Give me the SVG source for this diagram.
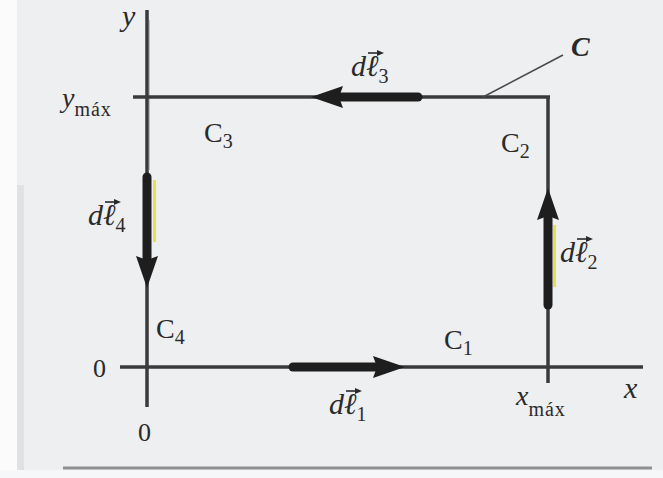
<svg xmlns="http://www.w3.org/2000/svg" width="663" height="478" viewBox="0 0 663 478">
<defs>
<style>
.bg{fill:#edeff1}
.ln{stroke:#3a3a3a;stroke-width:3.5;fill:none;stroke-linecap:butt}
.thick{stroke:#1e1e1e;stroke-width:9;fill:none;stroke-linecap:round}
.lbl{font-family:"Liberation Serif","DejaVu Serif",serif;fill:#2a2a2a}
.it{font-style:italic}
.sub{font-size:20px;font-style:normal}
.vec{stroke:#2a2a2a;stroke-width:1.6;fill:none}
</style>
<marker id="ah" markerUnits="userSpaceOnUse" markerWidth="34" markerHeight="24" viewBox="0 0 34 24" refX="2" refY="12" orient="auto">
<path d="M0,1 L32,12 L0,23 L4,12 Z" fill="#1e1e1e"/>
</marker>
<g id="va">
<line class="vec" x1="0" y1="0" x2="11" y2="0"/>
<path d="M9,-3 L16,0 L9,3 Z" fill="#2a2a2a"/>
</g>
</defs>
<rect class="bg" x="0" y="0" width="663" height="478"/>
<rect x="0" y="0" width="17" height="478" fill="#fbfbfb"/>
<rect x="17" y="185" width="7" height="293" fill="#dfe1e3"/>
<rect x="0" y="470" width="663" height="8" fill="#f6f7f8"/>
<line x1="63" y1="468" x2="652" y2="468" stroke="#8e9092" stroke-width="3"/>

<g id="connectors">
<line class="ln" x1="147" y1="10" x2="147" y2="407"/>
<line x1="149.5" y1="20" x2="149.5" y2="170" stroke="#a9c3d8" stroke-width="1"/>
<line class="ln" x1="120" y1="367" x2="643" y2="367"/>
<line class="ln" x1="133" y1="97" x2="550" y2="97"/>
<line class="ln" x1="548" y1="97" x2="548" y2="383"/>
<line x1="563" y1="55" x2="483" y2="97" stroke="#4a4a4a" stroke-width="1.6"/>
<rect x="153" y="180" width="3" height="62" fill="#e6e04a"/>
<rect x="553" y="225" width="3" height="62" fill="#e6e04a"/>
<line class="thick" x1="293" y1="367" x2="375" y2="367" marker-end="url(#ah)"/>
<line class="thick" x1="548" y1="305" x2="548" y2="218" marker-end="url(#ah)"/>
<line class="thick" x1="418" y1="97" x2="341" y2="97" marker-end="url(#ah)"/>
<line class="thick" x1="147" y1="177" x2="147" y2="258" marker-end="url(#ah)"/>
</g>

<g id="axis-labels">
<text class="lbl it" x="122" y="26" font-size="30">y</text>
<text class="lbl" x="62" y="107" font-size="28"><tspan class="it">y</tspan><tspan class="sub" dy="9" letter-spacing="1">máx</tspan></text>
<text class="lbl" x="93" y="377" font-size="26">0</text>
<text class="lbl" x="138" y="441" font-size="26">0</text>
<text class="lbl it" x="624" y="398" font-size="30">x</text>
<text class="lbl" x="516" y="405" font-size="28"><tspan class="it">x</tspan><tspan class="sub" dy="11" letter-spacing="1">máx</tspan></text>
</g>

<g id="C"><text class="lbl it" x="571" y="56" font-size="28" font-weight="bold">C</text></g>
<g id="C1"><text class="lbl" x="444" y="349" font-size="28">C<tspan class="sub" dy="6">1</tspan></text></g>
<g id="C2"><text class="lbl" x="501" y="152" font-size="28">C<tspan class="sub" dy="6">2</tspan></text></g>
<g id="C3"><text class="lbl" x="204" y="142" font-size="28">C<tspan class="sub" dy="6">3</tspan></text></g>
<g id="C4"><text class="lbl" x="156" y="338" font-size="28">C<tspan class="sub" dy="6">4</tspan></text></g>

<g id="dl1"><text class="lbl it" x="329" y="414" font-size="30">dℓ<tspan class="sub" dy="7">1</tspan></text><use href="#va" x="346" y="391"/></g>
<g id="dl2"><text class="lbl it" x="560" y="262" font-size="30">dℓ<tspan class="sub" dy="7">2</tspan></text><use href="#va" x="577" y="239"/></g>
<g id="dl3"><text class="lbl it" x="351" y="76" font-size="30">dℓ<tspan class="sub" dy="7">3</tspan></text><use href="#va" x="368" y="53"/></g>
<g id="dl4"><text class="lbl it" x="88" y="225" font-size="30">dℓ<tspan class="sub" dy="7">4</tspan></text><use href="#va" x="105" y="202"/></g>
</svg>
